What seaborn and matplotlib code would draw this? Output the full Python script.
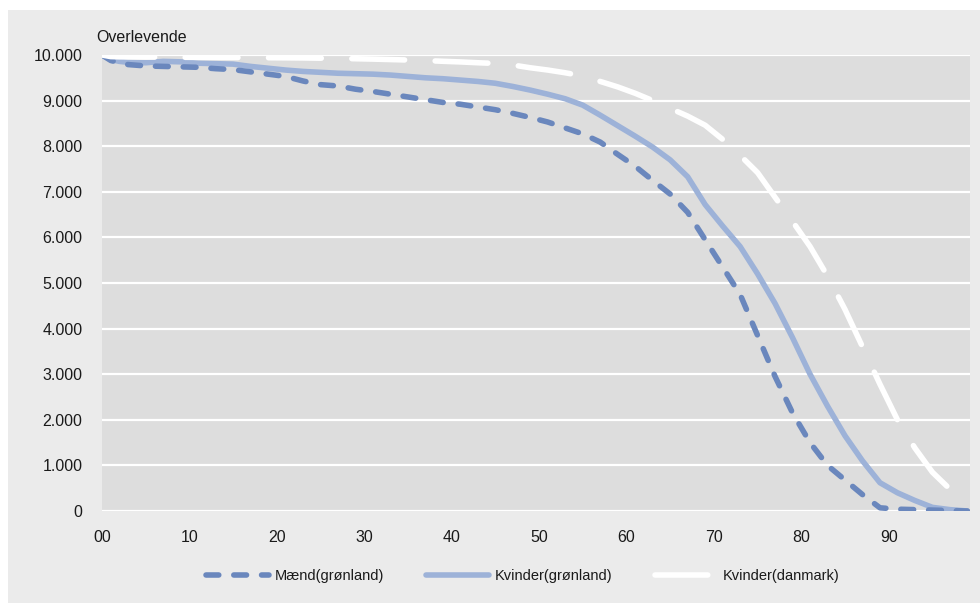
import matplotlib
matplotlib.use("Agg")
import matplotlib.pyplot as plt
from matplotlib.patches import Rectangle
import seaborn as sns
import pandas as pd

ages = [0, 1, 2, 3, 5, 7, 9, 11, 13, 15, 17, 19, 21, 23, 25, 27, 29, 31, 33, 35,
        37, 39, 41, 43, 45, 47, 49, 51, 53, 55, 57, 59, 61, 63, 65, 67, 69, 71, 73,
        75, 77, 79, 81, 83, 85, 87, 89, 91, 93, 95, 97, 99]

maend_gl = [10000, 9880, 9830, 9790, 9760, 9750, 9740, 9730, 9700, 9680, 9630, 9580,
            9530, 9430, 9350, 9320, 9250, 9200, 9140, 9080, 9020, 8960, 8920, 8860,
            8800, 8720, 8630, 8530, 8400, 8270, 8090, 7820, 7560, 7250, 6950, 6550,
            5950, 5350, 4750, 3850, 2950, 2150, 1500, 1000, 680, 360, 70, 40, 30, 20,
            10, 0]

kvinder_gl = [10000, 9900, 9860, 9840, 9830, 9860, 9850, 9820, 9810, 9800, 9750, 9710,
              9670, 9640, 9620, 9600, 9590, 9580, 9560, 9530, 9500, 9480, 9450, 9420,
              9380, 9310, 9230, 9140, 9040, 8900, 8680, 8450, 8220, 7980, 7700, 7330,
              6720, 6250, 5800, 5200, 4550, 3800, 3000, 2300, 1650, 1100, 620, 400,
              230, 80, 30, 0]

kvinder_dk = [10000, 9965, 9960, 9958, 9955, 9953, 9950, 9948, 9946, 9944, 9942, 9940,
              9938, 9935, 9930, 9925, 9918, 9910, 9900, 9890, 9878, 9862, 9848, 9830,
              9815, 9780, 9720, 9670, 9610, 9540, 9420, 9300, 9160, 9000, 8830, 8660,
              8460, 8150, 7800, 7420, 6880, 6350, 5800, 5150, 4420, 3600, 2780, 2000,
              1380, 850, 480, 200]

labels = ["Mænd(grønland)", "Kvinder(grønland)", "Kvinder(danmark)"]
xticks = [0, 10, 20, 30, 40, 50, 60, 70, 80, 90]
xticklabels = ["00", "10", "20", "30", "40", "50", "60", "70", "80", "90"]
yticks = [0, 1000, 2000, 3000, 4000, 5000, 6000, 7000, 8000, 9000, 10000]

df = pd.DataFrame({"age": ages, "m": maend_gl, "kg": kvinder_gl, "kd": kvinder_dk})

sns.set_style("white", {"axes.facecolor": "#dddddd"})
plt.rcParams["font.family"] = ["Liberation Sans Narrow", "Liberation Sans", "DejaVu Sans"]

fig = plt.figure(figsize=(9.8, 6.03), dpi=100, facecolor="white")
fig.patches.append(Rectangle((8 / 980, 0), 972 / 980, 593 / 603, transform=fig.transFigure,
                             facecolor="#ebebeb", edgecolor="none", zorder=-10))
ax = fig.add_axes([102 / 980, 1 - 511 / 603, (970 - 102) / 980, (511 - 55) / 603])
ax.set_facecolor("#dddddd")

for y in yticks:
    ax.axhline(y, color="white", lw=1.6, zorder=1)

lw = 4.0
sns.lineplot(data=df, x="age", y="m", ax=ax, color="#6a87bd", lw=lw, label=labels[0], zorder=4)
sns.lineplot(data=df, x="age", y="kg", ax=ax, color="#9db2d8", lw=lw, label=labels[1], zorder=3)
sns.lineplot(data=df, x="age", y="kd", ax=ax, color="white", lw=lw, label=labels[2], zorder=5)

lines = ax.get_lines()[len(yticks):]
lines[0].set_dashes((2.3, 2.7))
lines[0].set_dash_capstyle("round")
lines[1].set_solid_capstyle("round")
lines[1].set_solid_joinstyle("round")
lines[2].set_dashes((9.5, 5.5))
lines[2].set_dash_capstyle("round")

ax.set_xlim(0, 99.3)
ax.set_ylim(0, 10000)
ax.set_xticks(xticks)
ax.set_xticklabels(xticklabels)
ax.set_yticks(yticks)
ax.set_yticklabels([f"{v:,}".replace(",", ".") for v in yticks])
ax.tick_params(axis="both", length=0, labelsize=11.5, colors="#1a1a1a")
ax.tick_params(axis="y", pad=14)
ax.tick_params(axis="x", pad=14)
ax.set_xlabel("")
ax.set_ylabel("")
for s in ax.spines.values():
    s.set_visible(False)

ax.get_legend().remove()
handles = lines
leg = fig.legend(handles, labels, loc="center", bbox_to_anchor=(523 / 980, 1 - 576 / 603),
                 ncol=3, frameon=False, fontsize=10.5, handlelength=4.3,
                 handletextpad=0.4, columnspacing=2.9)
for t in leg.get_texts():
    t.set_color("#1a1a1a")

fig.text(96 / 980, 1 - 37 / 603, "Overlevende", ha="left", va="center", fontsize=11.5,
         color="#1a1a1a")

fig.savefig("out.png", dpi=100, facecolor=fig.get_facecolor())
